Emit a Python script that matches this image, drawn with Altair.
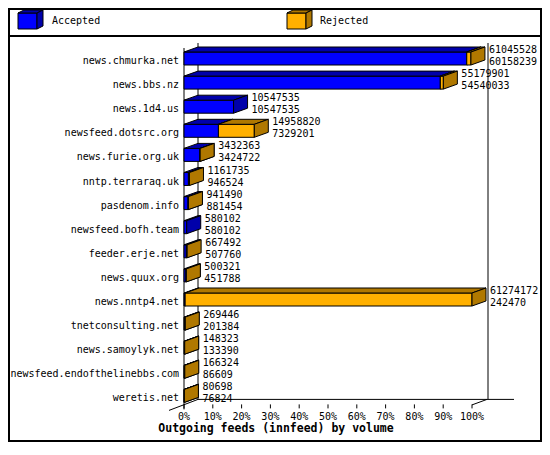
import altair as alt
import pandas as pd

# ---------------- data ----------------
hosts = ["news.chmurka.net", "news.bbs.nz", "news.1d4.us", "newsfeed.dotsrc.org",
         "news.furie.org.uk", "nntp.terraraq.uk", "pasdenom.info", "newsfeed.bofh.team",
         "feeder.erje.net", "news.quux.org", "news.nntp4.net", "tnetconsulting.net",
         "news.samoylyk.net", "newsfeed.endofthelinebbs.com", "weretis.net"]
offered = [61045528, 55179901, 10547535, 14958820, 3432363, 1161735, 941490, 580102,
           667492, 500321, 61274172, 269446, 148323, 166324, 80698]
accepted = [60158239, 54540033, 10547535, 7329201, 3424722, 946524, 881454, 580102,
            507760, 451788, 242470, 201384, 133390, 86609, 76824]
tick_values = [0, 10, 20, 30, 40, 50, 60, 70, 80, 90, 100]
tick_labels = ["0%", "10%", "20%", "30%", "40%", "50%", "60%", "70%", "80%", "90%", "100%"]
legend_names = ["Accepted", "Rejected"]
title_text = "Outgoing feeds (innfeed) by volume"

# ---------------- layout / style ----------------
FONT = "DejaVu Sans Mono"
W, H = 534, 434
X0, PX = 176.0, 2.88          # pixel of 0 %, pixels per percent
X100 = X0 + 100 * PX
Y0, S = 52.0, 24.1            # pixel of first row centre, pixels per row
L = Y0 + (len(hosts) - 1) * S  # pixel of last row centre
C_ACC, C_ACC_D = "#0000FF", "#0000AA"
C_REJ, C_REJ_D = "#FFB000", "#B07800"


def ux(px):
    return (px - X0) / PX


def uy(py):
    return (py - Y0) / S


XS = alt.Scale(domain=[ux(0), ux(W)], nice=False, zero=False)
YS = alt.Scale(domain=[uy(H), uy(0)], nice=False, zero=False)

fronts, tops, sides = [], [], []


def add_box(key, grp, lo, hi, yt, yb, dx, dy):
    fronts.append(dict(key=key, grp=grp, lo=lo, hi=hi, yt=yt, yb=yb))
    tops.append(dict(key=key, grp=grp, y=yt, x=lo, x2=hi))
    tops.append(dict(key=key, grp=grp, y=yt - dy, x=lo + dx, x2=hi + dx))
    sides.append(dict(key=key, grp=grp, x=hi, y=yb, y2=yt))
    sides.append(dict(key=key, grp=grp, x=hi + dx, y=yb - dy, y2=yt - dy))


M = max(offered)
DX, DY = 14 / PX, 5 / S
FT, FB = -8 / S, 5 / S
rows = []
for i, h in enumerate(hosts):
    a = accepted[i] / M * 100
    t = offered[i] / M * 100
    add_box(f"a{i}", "acc", 0, a, i + FT, i + FB, DX, DY)
    if t > a:
        add_box(f"r{i}", "rej", a, t, i + FT, i + FB, DX, DY)
    rows.append(dict(row=i, host=h, off=str(offered[i]), acc=str(accepted[i]), vx=t + DX))

# legend cubes
add_box("la", "acc", ux(10), ux(29), uy(5), uy(21), 6 / PX, 3 / S)
add_box("lr", "rej", ux(279), ux(298), uy(5), uy(21), 6 / PX, 3 / S)

df_front = pd.DataFrame(fronts)
df_top = pd.DataFrame(tops)
df_side = pd.DataFrame(sides)
df_rows = pd.DataFrame(rows)


def faces(grp, col, dark):
    f = alt.Chart(df_front[df_front.grp == grp]).mark_rect(
        fill=col, stroke="black", strokeWidth=1).encode(
        x=alt.X("lo:Q", scale=XS, axis=None), x2="hi:Q",
        y=alt.Y("yt:Q", scale=YS, axis=None), y2="yb:Q")
    tp = alt.Chart(df_top[df_top.grp == grp]).mark_area(
        orient="horizontal", fill=dark, stroke="black", strokeWidth=1).encode(
        y=alt.Y("y:Q", scale=YS, axis=None),
        x=alt.X("x:Q", scale=XS, axis=None, stack=None), x2="x2:Q",
        detail="key:N")
    sd = alt.Chart(df_side[df_side.grp == grp]).mark_area(
        orient="vertical", fill=dark, stroke="black", strokeWidth=1).encode(
        x=alt.X("x:Q", scale=XS, axis=None),
        y=alt.Y("y:Q", scale=YS, axis=None, stack=None), y2="y2:Q",
        detail="key:N")
    return [f, tp, sd]


# frame lines
frame = pd.DataFrame([
    dict(x=ux(X0), y=uy(Y0 - 12), x2=ux(X0), y2=uy(L + 12)),
    dict(x=ux(X0 + 14), y=uy(Y0 - 17), x2=ux(X0 + 14), y2=uy(L + 2)),
    dict(x=ux(X100 + 16), y=uy(Y0 - 17), x2=ux(X100 + 16), y2=uy(L + 2)),
    dict(x=ux(X0 + 14), y=uy(L + 2), x2=ux(X100 + 42), y2=uy(L + 2)),
    dict(x=ux(X0 - 15), y=uy(L + 13), x2=ux(X0 + 14), y2=uy(L + 2)),
    dict(x=ux(X100), y=uy(L + 7.5), x2=ux(X100 + 15), y2=uy(L + 2)),
])
frame_layer = alt.Chart(frame).mark_rule(color="black", strokeWidth=1).encode(
    x=alt.X("x:Q", scale=XS, axis=None), x2="x2:Q",
    y=alt.Y("y:Q", scale=YS, axis=None), y2="y2:Q")

ticks = pd.DataFrame(dict(v=tick_values, lab=tick_labels,
                          y=[uy(L + 7)] * len(tick_values),
                          y2=[uy(L + 11)] * len(tick_values),
                          ly=[uy(L + 19.5)] * len(tick_values)))
tick_layer = alt.Chart(ticks).mark_rule(color="black", strokeWidth=1).encode(
    x=alt.X("v:Q", scale=XS, axis=None),
    y=alt.Y("y:Q", scale=YS, axis=None), y2="y2:Q")
tick_text = alt.Chart(ticks).mark_text(
    font=FONT, fontSize=10, align="center", baseline="middle", color="black").encode(
    x=alt.X("v:Q", scale=XS, axis=None),
    y=alt.Y("ly:Q", scale=YS, axis=None), text="lab:N")

host_text = alt.Chart(df_rows).mark_text(
    font=FONT, fontSize=10, align="right", baseline="middle", dy=1, color="black").encode(
    x=alt.value(X0 - 5), y=alt.Y("row:Q", scale=YS, axis=None), text="host:N")
off_text = alt.Chart(df_rows).mark_text(
    font=FONT, fontSize=10, align="left", baseline="middle", dx=4, dy=-10, color="black").encode(
    x=alt.X("vx:Q", scale=XS, axis=None), y=alt.Y("row:Q", scale=YS, axis=None), text="off:N")
acc_text = alt.Chart(df_rows).mark_text(
    font=FONT, fontSize=10, align="left", baseline="middle", dx=4, dy=2, color="black").encode(
    x=alt.X("vx:Q", scale=XS, axis=None), y=alt.Y("row:Q", scale=YS, axis=None), text="acc:N")

legend_df = pd.DataFrame(dict(name=legend_names, x=[ux(44), ux(312)], y=[uy(13), uy(13)]))
legend_text = alt.Chart(legend_df).mark_text(
    font=FONT, fontSize=10, align="left", baseline="middle", color="black").encode(
    x=alt.X("x:Q", scale=XS, axis=None), y=alt.Y("y:Q", scale=YS, axis=None), text="name:N")

title_df = pd.DataFrame(dict(t=[title_text]))
title_layer = alt.Chart(title_df).mark_text(
    font=FONT, fontSize=11.5, fontWeight="bold", align="center", baseline="middle",
    color="black").encode(x=alt.value(268), y=alt.value(421), text="t:N")

one = pd.DataFrame(dict(d=[0]))
border = alt.Chart(one).mark_rect(fill="transparent", stroke="black", strokeWidth=2).encode(
    x=alt.value(1), x2=alt.value(W - 1), y=alt.value(1), y2=alt.value(H - 1))
sep = alt.Chart(one).mark_rule(color="black", strokeWidth=2).encode(
    x=alt.value(0), x2=alt.value(W), y=alt.value(28))

layers = [frame_layer, tick_layer]
layers += faces("acc", C_ACC, C_ACC_D)
layers += faces("rej", C_REJ, C_REJ_D)
layers += [tick_text, host_text, off_text, acc_text, legend_text, title_layer, border, sep]

chart = alt.layer(*layers).properties(
    width=W, height=H, padding=0, background="white",
    autosize=alt.AutoSizeParams(type="none")
).configure_view(stroke=None)

chart.save("out.html", embed_options={"renderer": "svg", "actions": False})
